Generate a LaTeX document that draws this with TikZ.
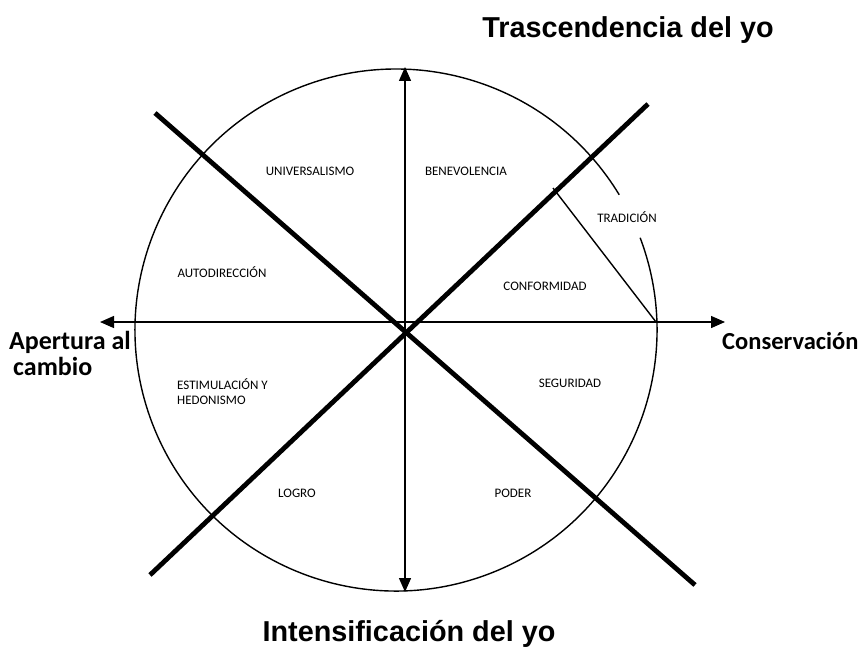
\documentclass[tikz,border=0pt]{standalone}
\usepackage{fontspec}
\setmainfont{Carlito}
\newfontfamily\arialfont{Liberation Sans}
\usepackage{tikz}
\usetikzlibrary{arrows.meta}

\begin{document}
\begin{tikzpicture}[
  x=1pt, y=-1pt,
  font=\fontsize{13}{15}\selectfont,
  axis/.style={line width=1.4pt, {Triangle[length=14pt,width=12pt]}-{Triangle[length=14pt,width=12pt]}},
  side/.style={line width=1.4pt, -{Triangle[length=14pt,width=12pt]}},
  cut/.style={line width=4.8pt},
  value/.style={inner sep=1pt, align=left},
  pole/.style={font=\arialfont\bfseries\fontsize{28.8}{33}\selectfont, inner sep=0pt},
  sidepole/.style={font=\bfseries\fontsize{25}{26}\selectfont, inner sep=0pt, align=left},
]
\useasboundingbox (0,0) rectangle (861,666);

\coordinate (o) at (396,330);
\coordinate (c) at (405,322);
\coordinate (top) at (405,67);
\coordinate (bot) at (405,592);
\coordinate (lft) at (100,322);
\coordinate (east) at (656,322);
\coordinate (rgt) at (725,322);
\coordinate (nw) at (155,113);
\coordinate (se) at (695,585);
\coordinate (ne) at (648,104);
\coordinate (sw) at (150,575);
\coordinate (cut) at (553,188);

\draw[line width=1.4pt] (o) ++(-20.7:261) arc[start angle=-20.7, end angle=328.8, radius=261];

\draw[axis] (bot) -- (top);
\draw[side] (c) -- (lft);
\draw[side] (c) -- (rgt);
\draw[cut] (nw) -- (se);
\draw[cut] (sw) -- (ne);
\draw[line width=1.4pt] (cut) -- (east);

\node[value] (univ) at (310,171) {UNIVERSALISMO};
\node[value] (bene) at (466,171) {BENEVOLENCIA};
\node[value] (trad) at (627,217) {TRADICIÓN};
\node[value] (auto) at (222,272) {AUTODIRECCIÓN};
\node[value] (conf) at (545,286) {CONFORMIDAD};
\node[value, anchor=west] (esti) at (176,392) {ESTIMULACIÓN Y\\HEDONISMO};
\node[value] (segu) at (570,383) {SEGURIDAD};
\node[value] (logr) at (297,493) {LOGRO};
\node[value] (pode) at (513,493) {PODER};

\node[pole] (tras) at (628,30) {Trascendencia del yo};
\node[pole] (inte) at (409,634) {Intensificación del yo};
\node[sidepole, anchor=west, font=\bfseries\fontsize{26}{26}\selectfont] (aper) at (9,353) {Apertura al\\\hspace*{4pt}cambio};
\node[sidepole, anchor=west, font=\bfseries\fontsize{24.5}{26}\selectfont] (cons) at (722,341) {Conservación};

\end{tikzpicture}
\end{document}
